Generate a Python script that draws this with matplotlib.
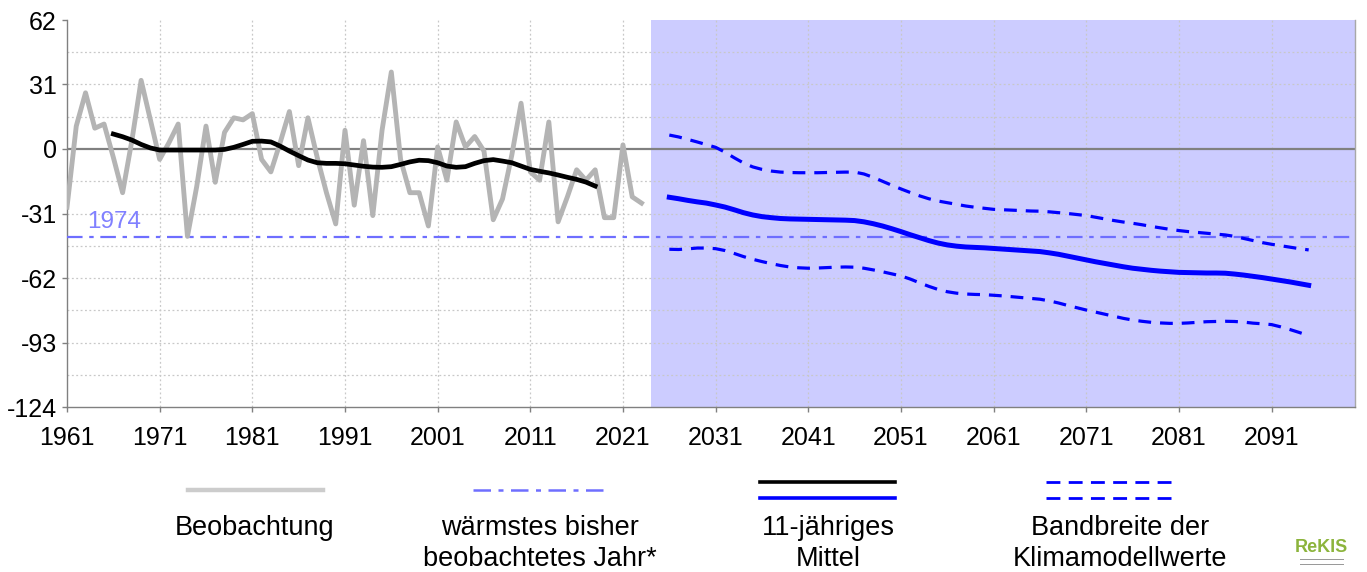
import matplotlib
matplotlib.use("Agg")
import matplotlib.pyplot as plt
from matplotlib.lines import Line2D
from matplotlib.patches import Rectangle
import numpy as np

plt.rcParams['font.family'] = ['Liberation Sans', 'DejaVu Sans']

# Observed values 1961-2023
obs_years = list(range(1961, 2024))
obs_values = [-28, 11, 27, 10, 12, -4, -21, 4, 33, 14,
              -5, 3, 12, -42, -18, 11, -16, 8, 15, 14,
              17, -5, -11, 3, 18, -8, 15, -4, -21, -36,
              9, -27, 4, -32, 9, 37, -5, -21, -21, -37,
              1, -15, 13, 1, 6, -1, -34, -24, -3, 22,
              -11, -15, 13, -35, -23, -10, -15, -10, -33, -33,
              2, -23, -26]

# 11-year running mean of the observations, 1966-2018
obs_mean_years = list(range(1966, 2019))
obs_mean_values = [7.2, 5.9, 4.3, 2.2, 0.5, -0.5, -0.5, -0.5, -0.5, -0.5,
                   -0.5, -0.5, -0.2, 0.8, 2.2, 3.7, 3.8, 3.4, 1.4, -1.0,
                   -3.2, -5.3, -6.6, -6.9, -6.9, -7.1, -7.7, -8.3, -8.7, -8.8,
                   -8.5, -7.4, -6.2, -5.4, -5.6, -6.6, -8.2, -8.8, -8.5, -6.9,
                   -5.6, -5.1, -5.8, -6.6, -8.2, -9.8, -10.7, -11.5, -12.5, -13.6,
                   -14.6, -15.9, -17.8]

# Climate model projections (11-year mean), 2026-2095
proj_years = list(range(2026, 2096))
proj_mean = [-23.2, -23.9, -24.7, -25.4, -26.0, -26.9, -27.9, -29.2, -30.6, -31.7,
             -32.5, -33.0, -33.4, -33.6, -33.7, -33.8, -33.9, -34.0, -34.1, -34.2,
             -34.4, -35.0, -35.9, -37.0, -38.3, -39.7, -41.2, -42.6, -44.0, -45.2,
             -46.1, -46.7, -47.1, -47.3, -47.5, -47.8, -48.1, -48.4, -48.7, -49.0,
             -49.3, -49.9, -50.6, -51.5, -52.4, -53.3, -54.2, -55.0, -55.8, -56.6,
             -57.3, -57.8, -58.3, -58.7, -59.0, -59.3, -59.4, -59.5, -59.6, -59.6,
             -59.7, -60.1, -60.6, -61.2, -61.8, -62.5, -63.2, -63.9, -64.7, -65.5]
proj_upper = [6.7, 5.8, 4.6, 3.4, 2.1, 0.8, -1.5, -4.2, -6.7, -8.6,
              -9.8, -10.6, -11.1, -11.3, -11.4, -11.4, -11.4, -11.3, -11.2, -11.1,
              -11.1, -12.0, -13.6, -15.5, -17.4, -19.2, -20.9, -22.5, -23.9, -25.0,
              -25.8, -26.6, -27.4, -28.0, -28.5, -29.0, -29.2, -29.4, -29.6, -29.8,
              -29.9, -30.2, -30.6, -31.0, -31.5, -32.0, -32.8, -33.6, -34.4, -35.1,
              -35.7, -36.4, -37.2, -37.9, -38.6, -39.2, -39.7, -40.1, -40.5, -40.9,
              -41.3, -42.0, -43.0, -44.0, -45.0, -45.8, -46.5, -47.2, -47.9, -48.5]
proj_lower = [-48.2, -48.3, -48.0, -47.6, -47.6, -47.9, -48.8, -50.2, -51.7, -53.0,
              -54.1, -55.1, -56.0, -56.7, -57.1, -57.3, -57.2, -57.0, -56.8, -56.7,
              -56.8, -57.3, -58.1, -59.0, -60.0, -61.0, -62.5, -64.3, -66.0, -67.5,
              -68.6, -69.3, -69.7, -69.9, -70.0, -70.3, -70.6, -71.0, -71.4, -71.8,
              -72.2, -73.0, -74.0, -75.2, -76.3, -77.4, -78.4, -79.4, -80.4, -81.4,
              -82.2, -82.8, -83.3, -83.6, -83.8, -83.8, -83.6, -83.3, -83.0, -82.9,
              -82.8, -82.9, -83.2, -83.7, -84.0, -84.4, -85.5, -86.8, -88.2, -89.7]

# Warmest observed year so far
record_year = 1974
record_value = -42.3

x_ticks = list(range(1961, 2092, 10))
y_ticks = [62, 31, 0, -31, -62, -93, -124]
proj_start = 2024

legend_labels = [["Beobachtung"],
                 ["wärmstes bisher", "beobachtetes Jahr*"],
                 ["11-jähriges", "Mittel"],
                 ["Bandbreite der", "Klimamodellwerte"]]

GREY_OBS = "#b4b4b4"
RECORD_BLUE = "#6e6eff"
SHADE = "#ccccff"

fig = plt.figure(figsize=(13.67, 5.72), dpi=100)
ax = fig.add_axes([67 / 1367, 1 - 407 / 572, (1355 - 67) / 1367, (407 - 20) / 572])

ax.set_xlim(1961, 2100)
ax.set_ylim(-124, 62)

# projection period background
ax.axvspan(proj_start, 2100, color=SHADE, zorder=0, lw=0)

# dotted grid
ax.set_yticks(y_ticks)
ax.set_xticks(x_ticks)
for yv in np.arange(-108.5, 62, 15.5):
    if abs(yv) > 1e-6:
        ax.axhline(yv, color="#c8c8c8", lw=0.9, ls=(0, (1.5, 2)), zorder=1)
for xv in x_ticks[1:]:
    ax.axvline(xv, color="#c8c8c8", lw=0.9, ls=(0, (1.5, 2)), zorder=1)

# zero line
ax.axhline(0, color="#808080", lw=1.6, zorder=2)

# record year reference
ax.axhline(record_value, color=RECORD_BLUE, lw=1.6, ls=(0, (7, 3, 2, 3)), zorder=3)
ax.text(1963.2, record_value + 7.3, str(record_year), color="#8080ff", fontsize=17.5,
        va="center", ha="left", zorder=4)

# observations and running mean
ax.plot(obs_years, obs_values, color=GREY_OBS, lw=3.5, zorder=4)
ax.plot(obs_mean_years, obs_mean_values, color="black", lw=3.4, zorder=5)

# projections
ax.plot(proj_years, proj_upper, color="#0000ff", lw=2.3, ls=(0, (4, 2.8)), zorder=5)
ax.plot(proj_years, proj_lower, color="#0000ff", lw=2.3, ls=(0, (4, 2.8)), zorder=5)
ax.plot(proj_years, proj_mean, color="#0000ff", lw=3.6, zorder=6)

# axes styling
ax.spines["top"].set_visible(False)
ax.spines["left"].set_color("#808080")
ax.spines["bottom"].set_color("#808080")
ax.spines["right"].set_color("#a8a8a8")
for s in ("left", "bottom", "right"):
    ax.spines[s].set_linewidth(1.0)
ax.tick_params(axis="both", which="major", colors="#808080", length=3.6, width=1,
               labelcolor="black", labelsize=18)
ax.tick_params(axis="y", pad=3.6)
ax.tick_params(axis="x", pad=10)
ax.set_yticklabels([str(v) for v in y_ticks])
ax.set_xticklabels([str(v) for v in x_ticks])

# legend drawn beneath the chart
def fx(px):
    return px / 1367

def fy(py):
    return 1 - py / 572

fig.add_artist(Line2D([fx(188), fx(323)], [fy(490), fy(490)], color="#cccccc", lw=3.2))
fig.add_artist(Line2D([fx(473), fx(608)], [fy(490), fy(490)], color=RECORD_BLUE, lw=1.8,
                      ls=(0, (7, 3, 2, 3))))
fig.add_artist(Line2D([fx(760), fx(895)], [fy(482), fy(482)], color="black", lw=2.6))
fig.add_artist(Line2D([fx(760), fx(895)], [fy(498), fy(498)], color="#0000ff", lw=2.6))
fig.add_artist(Line2D([fx(1046), fx(1172)], [fy(482), fy(482)], color="#0000ff", lw=2.0,
                      ls=(0, (5, 3))))
fig.add_artist(Line2D([fx(1046), fx(1172)], [fy(498), fy(498)], color="#0000ff", lw=2.0,
                      ls=(0, (5, 3))))

label_x = [255, 540, 828, 1120]
for lx, lines in zip(label_x, legend_labels):
    for i, line in enumerate(lines):
        fig.text(fx(lx), fy(535 + 31 * i), line, ha="center", va="baseline", fontsize=19.5)

# ReKIS mark
fig.text(fx(1321), fy(548), "ReKIS", color="#8cb43c", fontsize=13, fontweight="bold",
         ha="center", va="center")
fig.add_artist(Rectangle((fx(1300), fy(560)), fx(44), 1.5 / 572, color="#9a9a9a", lw=0))
fig.add_artist(Rectangle((fx(1300), fy(565)), fx(44), 1.5 / 572, color="#9a9a9a", lw=0))

fig.savefig("out.png", dpi=100)
